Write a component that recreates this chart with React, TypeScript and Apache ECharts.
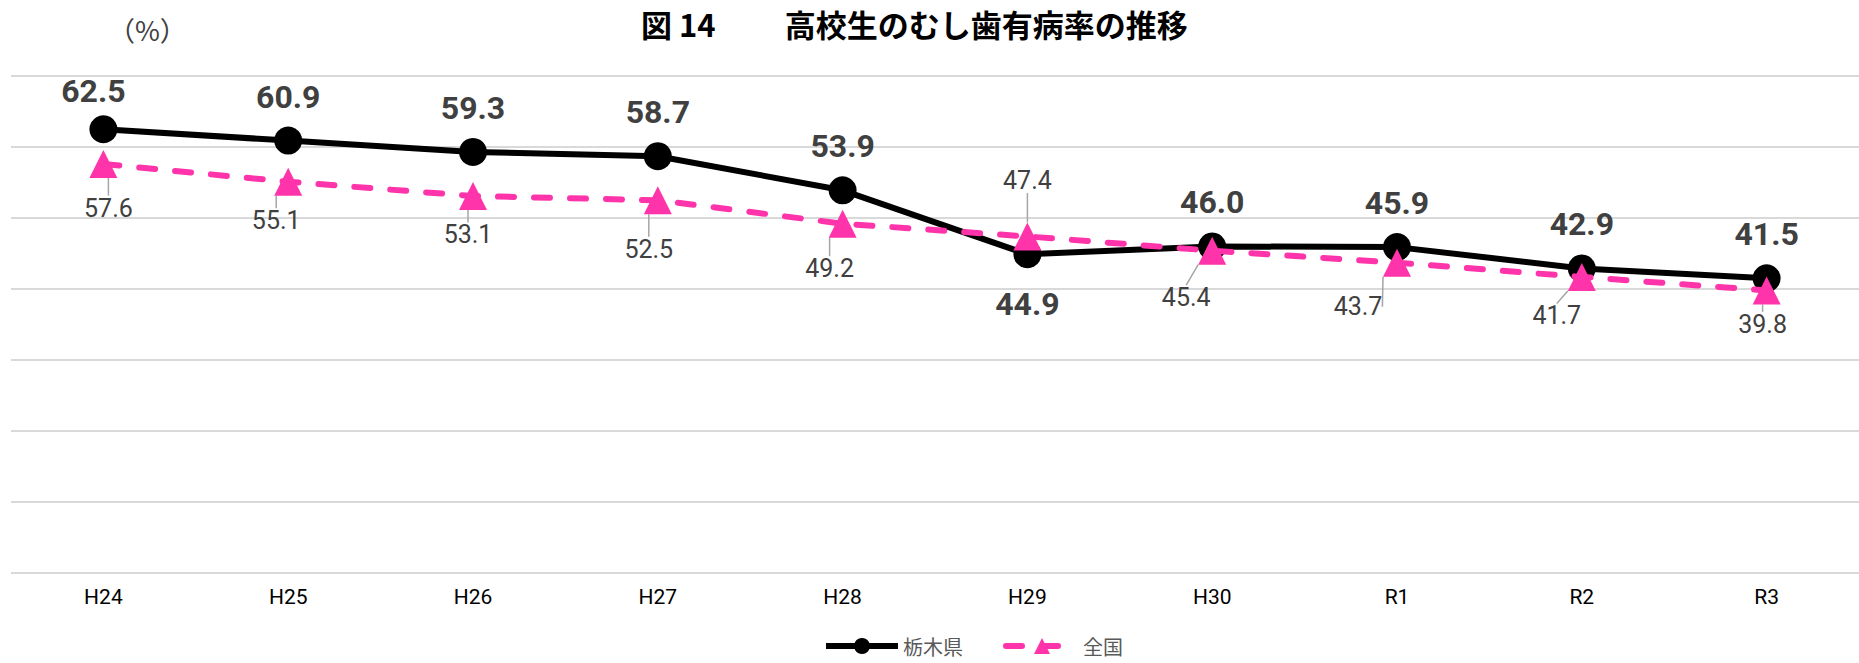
import React, { useEffect, useRef } from "react";
import * as echarts from "echarts";

const categories = ["H24", "H25", "H26", "H27", "H28", "H29", "H30", "R1", "R2", "R3"];
const tochigi = [62.5, 60.9, 59.3, 58.7, 53.9, 44.9, 46.0, 45.9, 42.9, 41.5];
const zenkoku = [57.6, 55.1, 53.1, 52.5, 49.2, 47.4, 45.4, 43.7, 41.7, 39.8];
const yTicks = { min: 0, max: 70, interval: 10 };

// label offsets (styling) for the national series labels
const zenkokuLabelShift = [
  [5, 44], [-12, 39], [-5, 39], [-9, 49], [-13, 45],
  [0, -56], [-26, 47], [-39, 44], [-25, 39], [-4, 34],
];

const NUM = "Roboto, 'Liberation Sans', sans-serif";
const JP = "'Noto Sans CJK JP', sans-serif";

export default function App() {
  const ref = useRef<HTMLDivElement>(null);
  useEffect(() => {
    if (!ref.current) return;
    const chart = echarts.init(ref.current, null, { renderer: "svg" });
    const option: any = {
      animation: false,
      backgroundColor: "#fff",
      title: {
        text: "図 14　　 高校生のむし歯有病率の推移",
        left: 641,
        top: 8,
        padding: 0,
        textStyle: { fontSize: 31, fontWeight: "bold", color: "#000", fontFamily: JP },
      },
      graphic: [
        {
          type: "text",
          left: 108,
          top: 16,
          style: { text: "（%）", fontSize: 27, fill: "#404040", fontFamily: JP },
        },
      ],
      legend: {
        left: 823,
        top: 636,
        padding: 0,
        itemWidth: 72,
        itemHeight: 20,
        itemGap: 40,
        lineStyle: { width: 6 },
        textStyle: { fontSize: 20, color: "#595959", fontFamily: JP },
        data: ["栃木県", "全国"],
      },
      grid: { left: 11, right: 0, top: 76, bottom: 90, containLabel: false },
      xAxis: {
        type: "category",
        data: categories,
        boundaryGap: true,
        axisLine: { show: false },
        axisTick: { show: false },
        axisLabel: { fontSize: 21, color: "#000", fontFamily: NUM, margin: 13 },
      },
      yAxis: {
        type: "value",
        min: yTicks.min,
        max: yTicks.max,
        interval: yTicks.interval,
        axisLabel: { show: false },
        axisLine: { show: false },
        axisTick: { show: false },
        splitLine: { lineStyle: { color: "#D9D9D9", width: 2 } },
      },
      series: [
        {
          name: "栃木県",
          type: "line",
          data: tochigi.map((v, i) => {
            if (i === 5) {
              return { value: v, label: { position: "bottom", distance: 20 } };
            }
            if (i === 0) {
              return { value: v, label: { offset: [-10, 6] } };
            }
            return v;
          }),
          symbol: "circle",
          symbolSize: 28,
          itemStyle: { color: "#000" },
          lineStyle: { color: "#000", width: 6 },
          label: {
            show: true,
            position: "top",
            distance: 14,
            fontSize: 32,
            fontWeight: "bold",
            color: "#404040",
            fontFamily: NUM,
            formatter: (p: any) => Number(p.value).toFixed(1),
          },
          z: 2,
        },
        {
          name: "全国",
          type: "line",
          data: zenkoku,
          symbol: "triangle",
          symbolSize: 28,
          itemStyle: { color: "#FF33AA" },
          lineStyle: { color: "#FF33AA", width: 6, type: [16, 20], cap: "round" },
          label: {
            show: true,
            position: "inside",
            fontSize: 25,
            color: "#404040",
            fontFamily: NUM,
            formatter: (p: any) => Number(p.value).toFixed(1),
          },
          labelLine: { show: true, length2: 0, lineStyle: { color: "#A6A6A6", width: 1.5 } },
          labelLayout: (params: any) => {
            const s = zenkokuLabelShift[params.dataIndex] || [0, 0];
            return { dx: s[0], dy: s[1] };
          },
          z: 3,
        },
      ],
    };
    chart.setOption(option);
    return () => chart.dispose();
  }, []);
  return (
    <div
      ref={ref}
      style={{ position: "fixed", left: 0, top: 0, width: 1859, height: 663, background: "#fff" }}
    />
  );
}
